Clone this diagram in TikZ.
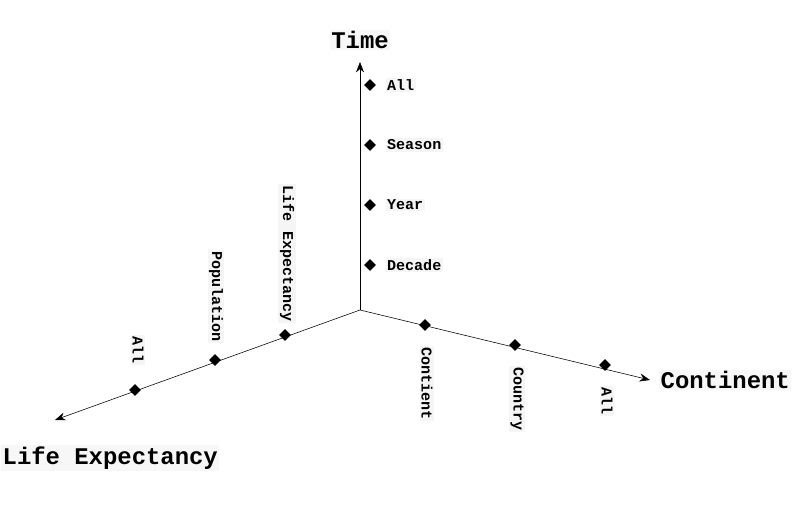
\documentclass[tikz,border=0pt]{standalone}
\usepackage{fontspec}
\setmonofont{Liberation Mono}
\usetikzlibrary{arrows.meta,positioning}
\tikzset{
  >={Stealth[width=2mm,length=2.6mm]},
  % Specifications for style of nodes:
        level/.style = {diamond, fill=black, inner sep=0pt,
                        minimum size=3mm},
       member/.style = {fill=black!4, inner sep=1pt,
                        font=\ttfamily\bfseries\fontsize{10.7}{12}\selectfont},
    downlabel/.style = {member, rotate=-90},
    axistitle/.style = {fill=black!3, inner sep=1pt,
                        font=\ttfamily\bfseries\fontsize{17}{20}\selectfont},
}
\usetikzlibrary{shapes.geometric}

\begin{document}
\begin{tikzpicture}[x=0.025cm, y=-0.025cm]
    \useasboundingbox (0,0) rectangle (800,510);
    % Axes
    \coordinate (origin)    at (360,310);
    \coordinate (timeEnd)   at (360,62);
    \coordinate (contEnd)   at (650,380);
    \coordinate (lifeEnd)   at (55,420);
    \draw[->] (origin) -- (timeEnd);
    \draw[->] (origin) -- (contEnd);
    \draw[->] (origin) -- (lifeEnd);

    % Axis titles
    \node (timeTitle) [axistitle] at (360,40)                {Time};
    \node (contTitle) [axistitle, anchor=west] at (659,380)  {Continent};
    \node (lifeTitle) [axistitle, anchor=west] at (1,458)    {Life Expectancy};

    % Time levels
    \node (tAll)     [level] at (370,85)  {};
    \node (tSeason)  [level] at (370,145) {};
    \node (tYear)    [level] at (370,205) {};
    \node (tDecade)  [level] at (370,265) {};
    \node [member, right=6.5pt of tAll]    {All};
    \node [member, right=6.5pt of tSeason] {Season};
    \node [member, right=6.5pt of tYear]   {Year};
    \node [member, right=6.5pt of tDecade] {Decade};

    % Continent levels
    \node (cContinent) [level] at (425,325) {};
    \node (cCountry)   [level] at (515,345) {};
    \node (cAll)       [level] at (605,365) {};
    \node [downlabel, anchor=west] at (427,346) {Contient};
    \node [downlabel, anchor=west] at (517,366) {Country};
    \node [downlabel, anchor=west] at (607,386) {All};

    % Life expectancy levels
    \node (lLife)  [level] at (285,335) {};
    \node (lPop)   [level] at (215,360) {};
    \node (lAll)   [level] at (135,390) {};
    \node [downlabel, anchor=east] at (287,323) {Life Expectancy};
    \node [downlabel, anchor=east] at (216,343) {Population};
    \node [downlabel, anchor=east] at (138,365) {All};
\end{tikzpicture}
\end{document}
